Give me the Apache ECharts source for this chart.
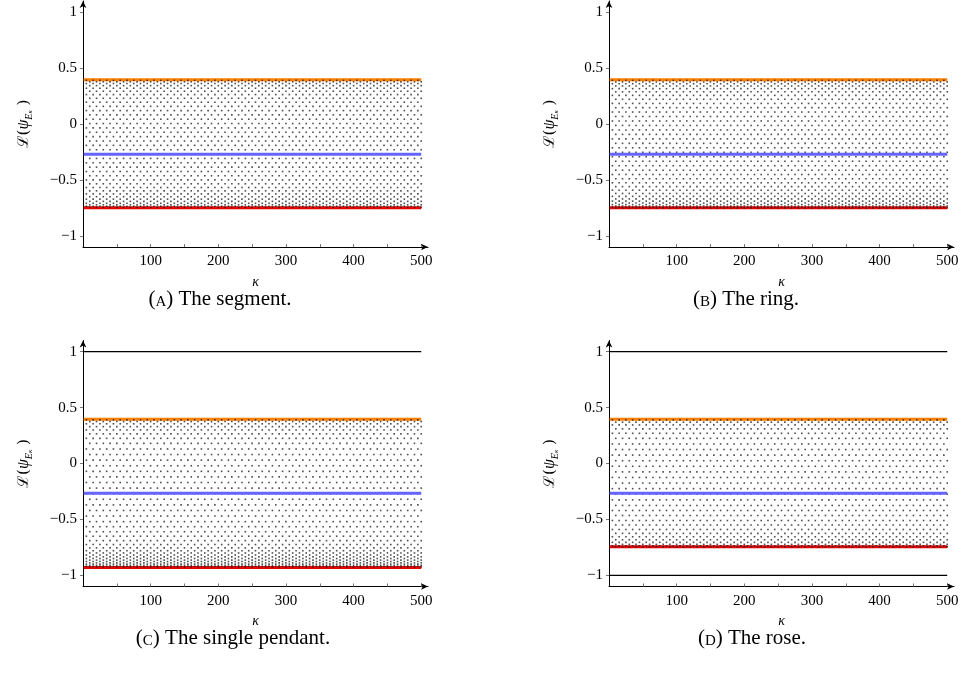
<!DOCTYPE html>
<html><head><meta charset="utf-8">
<script src="https://cdn.jsdelivr.net/npm/echarts@6/dist/echarts.min.js"></script>
<style>html,body{margin:0;padding:0;background:#fff}#c{width:964px;height:679px}</style>
</head><body><div id="c"></div>
<script>
// ---- data ----
const xTickLabels = [100, 200, 300, 400, 500];
const xTicks = [50, 100, 150, 200, 250, 300, 350, 400, 450, 500];
const yTickLabels = [-1, -0.5, 0, 0.5, 1];
const kappaRange = [1, 500];
// κ columns where dot rows are sampled (alternating rows)
const colsEven = [5,15,25,35,45,55,65,75,85,95,105,115,125,135,145,155,165,175,185,195,205,215,225,235,245,255,265,275,285,295,305,315,325,335,345,355,365,375,385,395,405,415,425,435,445,455,465,475,485,495];
const colsOdd = [10,20,30,40,50,60,70,80,90,100,110,120,130,140,150,160,170,180,190,200,210,220,230,240,250,260,270,280,290,300,310,320,330,340,350,360,370,380,390,400,410,420,430,440,450,460,470,480,490,500];
// dot-row levels estimated from the density of the point clouds
const levelsA = [0.39,0.377,0.362,0.343,0.32,0.293,0.263,0.23,0.195,0.158,0.12,0.082,0.043,0.004,-0.035,-0.074,-0.113,-0.152,-0.191,-0.23,-0.269,-0.308,-0.347,-0.386,-0.425,-0.463,-0.5,-0.535,-0.568,-0.598,-0.625,-0.65,-0.672,-0.692,-0.709,-0.723,-0.735,-0.745];
const levelsB = [0.39,0.376,0.36,0.34,0.316,0.288,0.256,0.221,0.184,0.146,0.107,0.067,0.027,-0.013,-0.053,-0.093,-0.133,-0.173,-0.213,-0.253,-0.293,-0.333,-0.373,-0.413,-0.452,-0.49,-0.526,-0.56,-0.592,-0.621,-0.647,-0.67,-0.69,-0.707,-0.721,-0.733,-0.743,-0.75];
const levelsC = [0.39,0.375,0.355,0.33,0.3,0.265,0.225,0.18,0.13,0.08,0.03,-0.02,-0.07,-0.12,-0.17,-0.22,-0.27,-0.32,-0.37,-0.42,-0.47,-0.52,-0.565,-0.61,-0.65,-0.69,-0.725,-0.755,-0.78,-0.8,-0.818,-0.835,-0.85,-0.864,-0.877,-0.889,-0.9,-0.91,-0.918,-0.925];
const levelsD = [0.39,0.37,0.345,0.31,0.27,0.225,0.175,0.125,0.075,0.025,-0.025,-0.075,-0.125,-0.175,-0.225,-0.275,-0.325,-0.375,-0.42,-0.465,-0.51,-0.55,-0.59,-0.625,-0.655,-0.682,-0.705,-0.723,-0.737,-0.745];
// horizontal reference lines
const orangeVals = [0.395, 0.395, 0.395, 0.395];
const blueVals = [-0.27, -0.27, -0.265, -0.265];
const redVals = [-0.75, -0.75, -0.93, -0.745];
const blackVals = [[], [], [1], [1, -1]];
const captionLetters = ['A', 'B', 'C', 'D'];
const captionTexts = ['The segment.', 'The ring.', 'The single pendant.', 'The rose.'];

// ---- layout ----
const grids = [
  {left: 83, top: 1, width: 345, height: 246},
  {left: 609, top: 1, width: 345, height: 246},
  {left: 83, top: 340.5, width: 345, height: 246},
  {left: 609, top: 340.5, width: 345, height: 246}
];
const captionX = [220, 746, 233, 752];
const levels = [levelsA, levelsB, levelsC, levelsD];
const FONT = 'Liberation Serif';
const minus = v => String(v).replace('-', '\u2212');

const option = {
  animation: false,
  backgroundColor: '#fff',
  grid: grids,
  xAxis: grids.map((g, i) => ({
    type: 'value', gridIndex: i, min: 0, max: 510,
    axisLine: {show: true, onZero: false, lineStyle: {color: '#000', width: 1}, symbol: ['none', 'arrow'], symbolSize: [5, 7]},
    axisTick: {show: true, inside: true, length: 3, customValues: xTicks, lineStyle: {color: '#777', width: 1}},
    axisLabel: {customValues: xTickLabels, fontFamily: FONT, fontSize: 15, color: '#000', margin: 7},
    splitLine: {show: false},
    name: 'κ', nameLocation: 'middle', nameGap: 28,
    nameTextStyle: {fontFamily: FONT, fontStyle: 'italic', fontSize: 14, color: '#000'}
  })),
  yAxis: grids.map((g, i) => ({
    type: 'value', gridIndex: i, min: -1.1, max: 1.1,
    axisLine: {show: true, onZero: false, lineStyle: {color: '#000', width: 1}, symbol: ['none', 'arrow'], symbolSize: [5, 7]},
    axisTick: {show: true, length: 3, customValues: yTickLabels, lineStyle: {color: '#777', width: 1}},
    axisLabel: {customValues: yTickLabels, formatter: minus, fontFamily: FONT, fontSize: 15, color: '#000', margin: 6},
    splitLine: {show: false},
    name: '{a|ℒ(}{p|ψ}{s|E}{k|κ}{a| )}', nameLocation: 'middle', nameGap: 49, nameRotate: 90,
    nameTextStyle: {
      color: '#000',
      rich: {
        a: {fontFamily: 'DejaVu Serif', fontSize: 15, color: '#000', lineHeight: 20},
        p: {fontFamily: FONT, fontStyle: 'italic', fontSize: 16, color: '#000', lineHeight: 20},
        s: {fontFamily: FONT, fontStyle: 'italic', fontSize: 10, color: '#000', verticalAlign: 'bottom', lineHeight: 12},
        k: {fontFamily: FONT, fontStyle: 'italic', fontSize: 7, color: '#000', verticalAlign: 'bottom', lineHeight: 8}
      }
    }
  })),
  series: [],
  graphic: []
};

grids.forEach((g, i) => {
  const pts = [];
  levels[i].forEach((y, r) => (r % 2 ? colsOdd : colsEven).forEach(k => pts.push([k, y])));
  const hline = (v, color, width, z) => ({
    type: 'line', xAxisIndex: i, yAxisIndex: i, z: z, silent: true, symbol: 'none',
    lineStyle: {color: color, width: width}, data: [[kappaRange[0], v], [kappaRange[1], v]]
  });
  option.series.push(hline(orangeVals[i], '#ff8000', 3, 2));
  option.series.push(hline(redVals[i], '#e60000', 3, 2));
  blackVals[i].forEach(v => option.series.push(hline(v, '#000', 1.2, 2)));
  option.series.push({
    type: 'scatter', xAxisIndex: i, yAxisIndex: i, z: 3, silent: true,
    symbol: 'rect', symbolSize: 1.6, itemStyle: {color: '#222'}, data: pts
  });
  option.series.push(hline(blueVals[i], '#6464ff', 3, 4));
  option.graphic.push({
    type: 'text', x: captionX[i], y: g.top + 298,
    style: {
      text: '{n|(}{c|' + captionLetters[i] + '}{n|) ' + captionTexts[i] + '}',
      align: 'center', verticalAlign: 'middle',
      rich: {
        n: {fontFamily: FONT, fontSize: 21, fill: '#000'},
        c: {fontFamily: FONT, fontSize: 15, fill: '#000', verticalAlign: 'bottom'}
      }
    }
  });
});

const chart = echarts.init(document.getElementById('c'), null, {renderer: 'canvas'});
chart.setOption(option);
</script></body></html>
